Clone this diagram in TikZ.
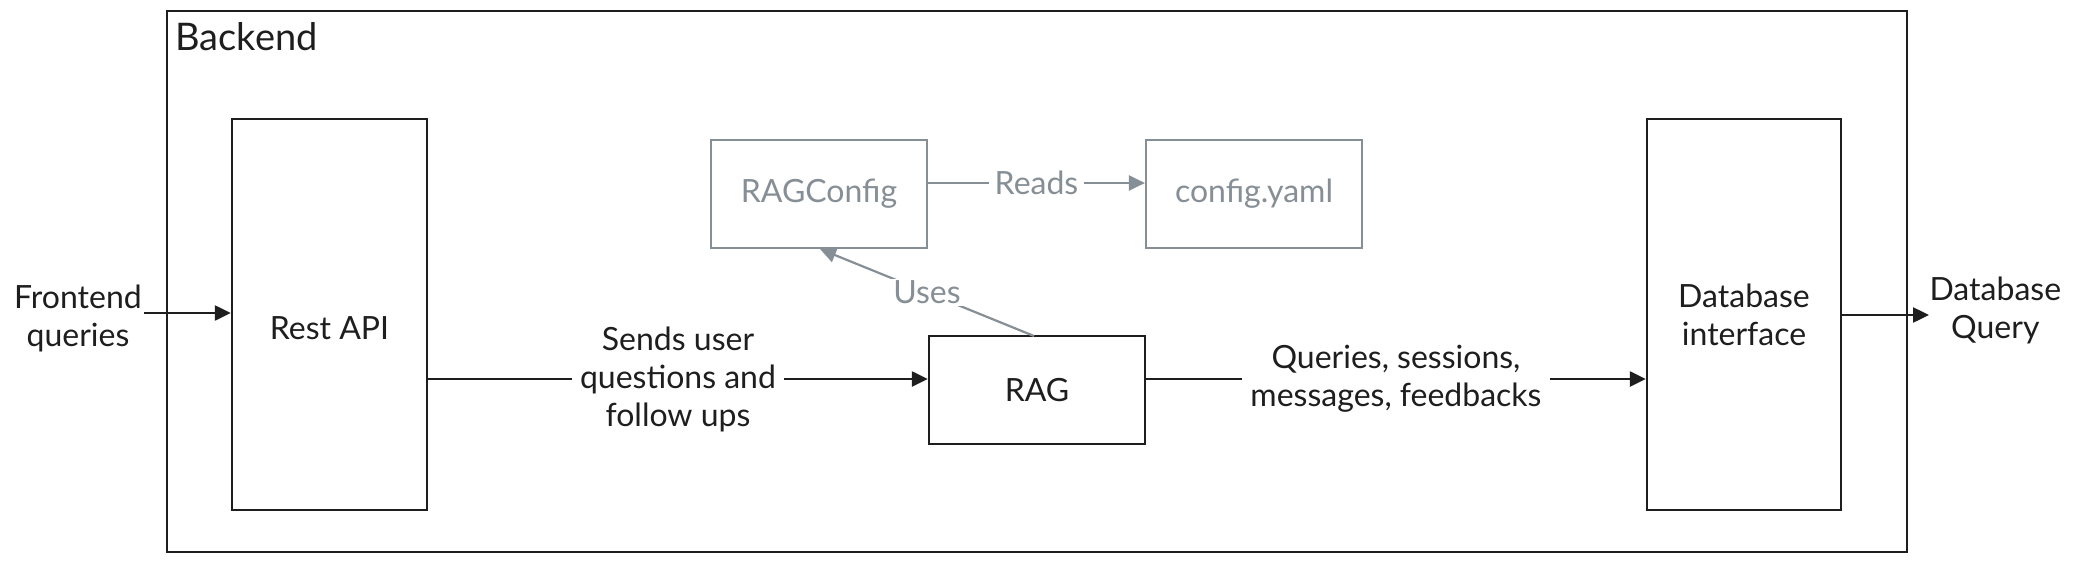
\documentclass[tikz,border=0pt]{standalone}
\usepackage{fontspec}
\setmainfont{Lato}
\usetikzlibrary{arrows.meta}
\definecolor{ink}{HTML}{1E1E1E}
\definecolor{muted}{HTML}{868E96}
\begin{document}
\begin{tikzpicture}[x=1pt,y=-1pt,
  every node/.style={font=\fontsize{32}{38}\selectfont, text=ink},
  blk/.style={draw=ink, line width=2.4pt, inner sep=0pt, align=center},
  gblk/.style={draw=muted, line width=2.2pt, inner sep=0pt, align=center, text=muted},
  flow/.style={draw=ink, line width=2.4pt, -{Triangle[length=16pt,width=15pt]}},
  gflow/.style={draw=muted, line width=2.2pt, -{Triangle[length=16pt,width=15pt]}},
  lbl/.style={fill=white, align=center, inner xsep=8pt, inner ysep=2pt},
  glbl/.style={fill=white, align=center, inner xsep=6pt, inner ysep=2pt, text=muted}]
\useasboundingbox[fill=white] (0,0) rectangle (2092,562);
% container
\node[blk, minimum width=1740pt, minimum height=541pt] (backend) at (1037,281.5) {};
\node[anchor=base west, font=\fontsize{38}{44}\selectfont] (backendlbl) at (172,50) {Backend};
% main blocks
\node[blk, minimum width=195pt, minimum height=391pt] (rest) at (329.5,314.5) {};
\node (restlbl) at (329.5,328) {Rest API};
\node[blk, minimum width=216pt, minimum height=108pt] (rag) at (1037,390) {RAG};
\node[blk, minimum width=194pt, minimum height=391pt] (db) at (1744,314.5) {Database\\interface};
\node[gblk, minimum width=216pt, minimum height=108pt] (cfg) at (819,194) {RAGConfig};
\node[gblk, minimum width=216pt, minimum height=108pt] (yaml) at (1254,194) {config.yaml};
% outside labels
\node[align=center] (fe) at (78,318) {Frontend\\queries};
\coordinate (festart) at (144,313);
\coordinate (dbqend) at (1929,315);
\node[align=center, anchor=west] (dbq) at (1926,310) {Database\\Query};
% connectors
\draw[flow] (festart) -- (festart -| rest.west);
\coordinate (sendy) at (0,379);
\draw[flow] (rest.east |- sendy) -- node[lbl] {Sends user\\questions and\\follow ups} (rag.west |- sendy);
\draw[flow] (rag.east |- sendy) -- node[lbl] {Queries, sessions,\\messages, feedbacks} (db.west |- sendy);
\draw[flow] (db.east |- dbqend) -- (dbqend);
\coordinate (ready) at (0,183);
\draw[gflow] (cfg.east |- ready) -- node[glbl] {Reads} (yaml.west |- ready);
\draw[gflow] (1034,336) -- node[glbl] {Uses} (820,249);
\end{tikzpicture}
\end{document}
